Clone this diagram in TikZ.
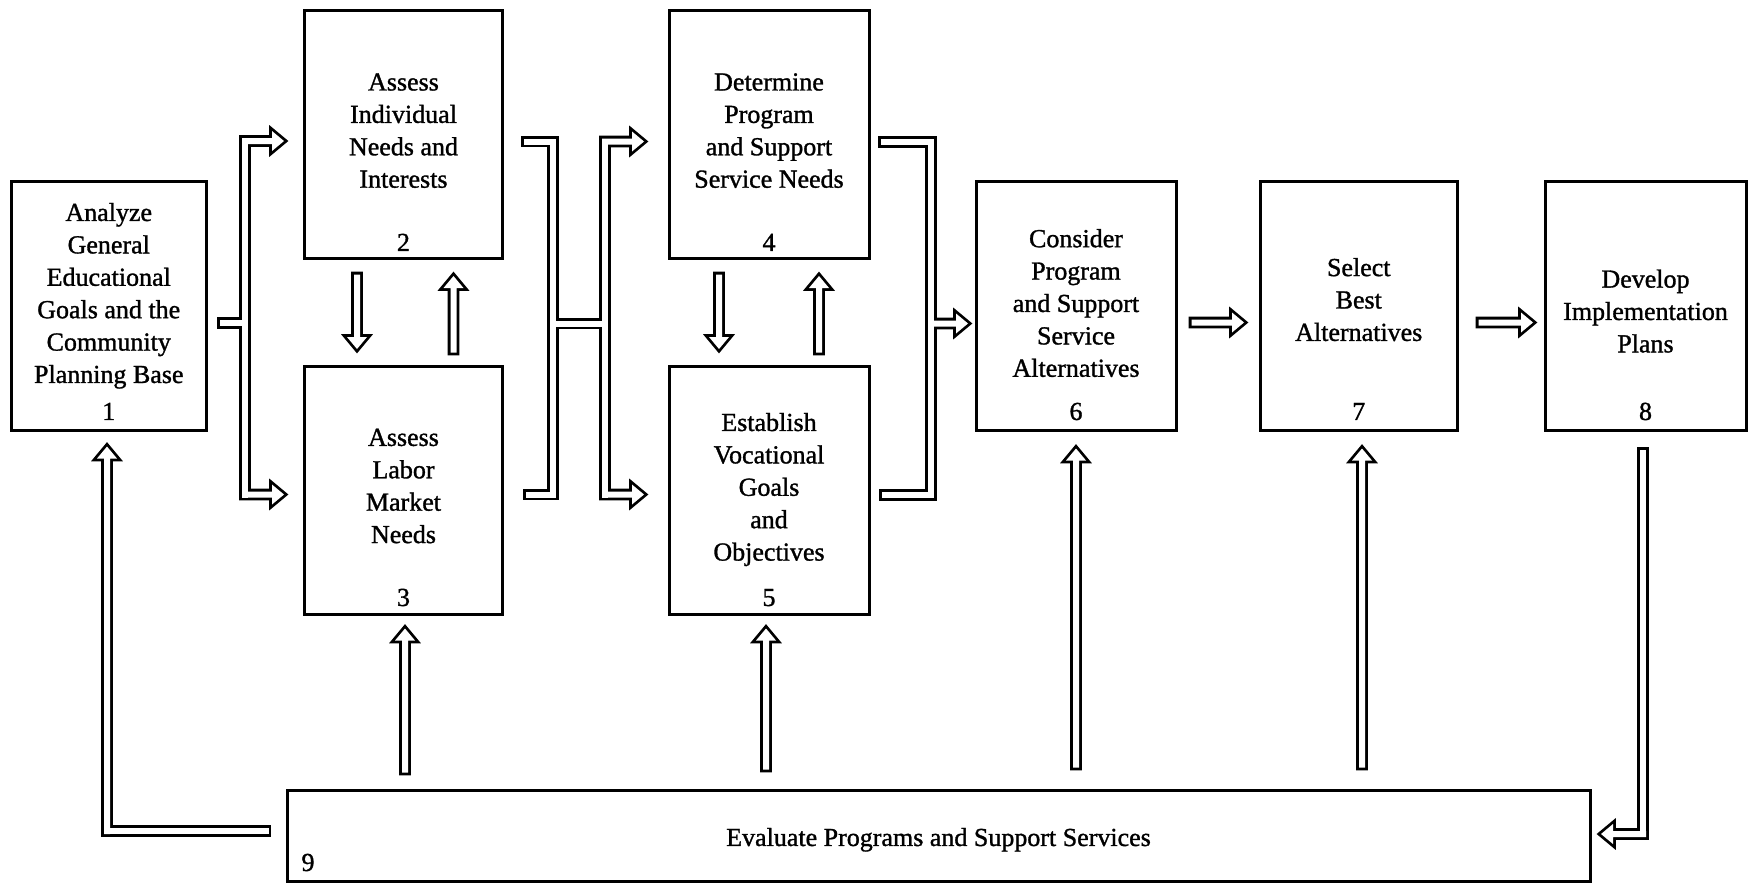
\documentclass[tikz,border=0pt]{standalone}
\usepackage{fontspec}
\setmainfont{Liberation Serif}[FakeBold=1.2]
\usetikzlibrary{calc}
\newcommand\arrSW{3pt}
\newcommand\arrHW{10pt}
\newcommand\arrHL{12pt}
% hollow straight arrow outline from #1 to tip #2
\newcommand\arrowshape[2]{let \p1=(#1), \p2=(#2), \n1={atan2(\y2-\y1,\x2-\x1)} in
  ($(\p1)+({\n1+90}:\arrSW)$) -- ($(\p2)+({\n1+180}:\arrHL)+({\n1+90}:\arrSW)$)
  -- ($(\p2)+({\n1+180}:\arrHL)+({\n1+90}:\arrHW)$) -- (\p2)
  -- ($(\p2)+({\n1+180}:\arrHL)+({\n1-90}:\arrHW)$)
  -- ($(\p2)+({\n1+180}:\arrHL)+({\n1-90}:\arrSW)$)
  -- ($(\p1)+({\n1-90}:\arrSW)$) -- cycle}
\newcommand\hollowone[1]{\draw[outl] #1; \fill[white] #1;}
% composite connectors: pass 1 = outline, pass 2 = white interior
\newcommand\conA[1]{%
  #1 ($(a1)+(0,-3)$) rectangle ($(ca)+(0,3)$);
  #1 ($(ca |- a2)+(-3,-3)$) rectangle ($(ca |- a3)+(3,3)$);
  #1 \arrowshape{$(ca |- a2)+(-3,0)$}{a2};
  #1 \arrowshape{$(ca |- a3)+(-3,0)$}{a3};}
\newcommand\conB[1]{%
  #1 ($(bA)+(0,-3)$) rectangle ($(bL)+(0,3)$);
  #1 ($(bB)+(0,-3)$) rectangle ($(bL |- bB)+(0,3)$);
  #1 ($(bL)+(-3,-3)$) rectangle ($(bL |- bB)+(3,3)$);
  #1 ($(bM)+(0,-3)$) rectangle ($(bR |- bM)+(0,3)$);
  #1 ($(bR)+(-3,-3)$) rectangle ($(bR |- bD)+(3,3)$);
  #1 \arrowshape{$(bR)+(-3,0)$}{bC};
  #1 \arrowshape{$(bR |- bD)+(-3,0)$}{bD};}
\newcommand\conC[1]{%
  #1 ($(cA)+(0,-3)$) rectangle ($(cL)+(0,3)$);
  #1 ($(cB)+(0,-3)$) rectangle ($(cL |- cB)+(0,3)$);
  #1 ($(cL)+(-3,-3)$) rectangle ($(cL |- cB)+(3,3)$);
  #1 \arrowshape{cL |- cT}{cT};}
\newcommand\conNineOne[1]{%
  #1 ($(g1k)+(-3,-3)$) rectangle ($(g1)+(0,3)$);
  #1 \arrowshape{$(g1k)+(0,3)$}{g1t};}
\newcommand\conEightNine[1]{%
  #1 ($(g8)+(-3,0)$) rectangle ($(g8k)+(3,3)$);
  #1 \arrowshape{$(g8k)+(3,0)$}{g8t};}
\begin{document}
\begin{tikzpicture}[x=1pt,y=-1pt,
  box/.style={draw, line width=3pt, inner sep=0pt, outer sep=0pt, rectangle},
  txt/.style={font=\fontsize{26}{32.4}\selectfont, align=center, inner sep=0pt},
  outl/.style={draw=black, line width=5.6pt, line join=miter}]
\useasboundingbox (0,0) rectangle (1749,884);

% boxes
\node[box, minimum width=195.5pt, minimum height=249.5pt] (b1) at (108.75,305.75) {};
\node[box, minimum width=198pt, minimum height=248pt] (b2) at (403.5,134.5) {};
\node[box, minimum width=198pt, minimum height=248pt] (b3) at (403.5,490) {};
\node[box, minimum width=200pt, minimum height=248pt] (b4) at (769,134.5) {};
\node[box, minimum width=200pt, minimum height=248pt] (b5) at (769,490) {};
\node[box, minimum width=200pt, minimum height=249.5pt] (b6) at (1076,305.75) {};
\node[box, minimum width=197.5pt, minimum height=249.5pt] (b7) at (1358.75,305.75) {};
\node[box, minimum width=201pt, minimum height=249.5pt] (b8) at (1645.5,305.75) {};
\node[box, minimum width=1303pt, minimum height=91pt] (b9) at (938.5,836) {};

% texts
\node[txt] (t1) at (108.75,295.5) {\strut Analyze\\General\\Educational\\Goals and the\\Community\\Planning Base\strut};
\node[txt] (n1) at (108.75,413.5) {\strut 1};
\node[txt] (t2) at (403.5,132.6) {\strut Assess\\Individual\\Needs and\\Interests\strut};
\node[txt] (n2) at (403.5,244.5) {\strut 2};
\node[txt] (t3) at (403.5,488) {\strut Assess\\Labor\\Market\\Needs\strut};
\node[txt] (n3) at (403.5,599.5) {\strut 3};
\node[txt] (t4) at (769,132.6) {\strut Determine\\Program\\and Support\\Service Needs\strut};
\node[txt] (n4) at (769,244.5) {\strut 4};
\node[txt] (t5) at (769,489.3) {\strut Establish\\Vocational\\Goals\\and\\Objectives\strut};
\node[txt] (n5) at (769,599.5) {\strut 5};
\node[txt] (t6) at (1076,305.5) {\strut Consider\\Program\\and Support\\Service\\Alternatives\strut};
\node[txt] (n6) at (1076,413.5) {\strut 6};
\node[txt] (t7) at (1358.75,302) {\strut Select\\Best\\Alternatives\strut};
\node[txt] (n7) at (1358.75,413.5) {\strut 7};
\node[txt] (t8) at (1645.5,313.5) {\strut Develop\\Implementation\\Plans\strut};
\node[txt] (n8) at (1645.5,413.5) {\strut 8};
\node[txt] (t9) at (938.5,839.5) {\strut Evaluate Programs and Support Services};
\node[txt] (n9) at (308,864.5) {\strut 9};

% connector coordinates
\coordinate (a1) at ($(b1.east)+(13,17.25)$);
\coordinate (a2) at ($(b2.west)+(-20.5,6.5)$);
\coordinate (a3) at ($(b3.west)+(-20.5,4.5)$);
\coordinate (ca) at ($(a1)+(25.5,0)$);

\coordinate (bA) at ($(b2.east)+(21,7)$);
\coordinate (bB) at ($(b3.east)+(23,4.5)$);
\coordinate (bC) at ($(b4.west)+(-25,7)$);
\coordinate (bD) at ($(b5.west)+(-25,4.5)$);
\coordinate (bL) at ($(bA)+(29.5,0)$);
\coordinate (bR) at ($(bC)+(-39,0)$);
\coordinate (bM) at ($(bL)+(0,182)$);

\coordinate (cA) at ($(b4.east)+(11.5,7.5)$);
\coordinate (cB) at ($(b5.east)+(12.5,5)$);
\coordinate (cT) at ($(b6.west)+(-8,17.75)$);
\coordinate (cL) at ($(cA)+(50.5,0)$);

\coordinate (g1) at ($(b9.west)+(-18.5,-5)$);
\coordinate (g1t) at ($(b1.south)+(-1.75,16)$);
\coordinate (g1k) at (g1t |- g1);
\coordinate (g8) at ($(b8.south)+(-2.5,19)$);
\coordinate (g8t) at ($(b9.east)+(11,-2)$);
\coordinate (g8k) at (g8 |- g8t);

% composite connectors
\conA{\draw[outl]} \conA{\fill[white]}
\conB{\draw[outl]} \conB{\fill[white]}
\conC{\draw[outl]} \conC{\fill[white]}
\conNineOne{\draw[outl]} \conNineOne{\fill[white]}
\conEightNine{\draw[outl]} \conEightNine{\fill[white]}

% straight connectors
\hollowone{\arrowshape{$(b2.south)+(-46.5,16)$}{$(b3.north)+(-46.5,-17)$}}
\hollowone{\arrowshape{$(b3.north)+(50,-13.5)$}{$(b2.south)+(50,17.5)$}}
\hollowone{\arrowshape{$(b4.south)+(-50,16)$}{$(b5.north)+(-50,-17)$}}
\hollowone{\arrowshape{$(b5.north)+(50,-13.5)$}{$(b4.south)+(50,17.5)$}}
\hollowone{\arrowshape{$(b6.east)+(15.5,16.75)$}{$(b7.west)+(-16,16.75)$}}
\hollowone{\arrowshape{$(b7.east)+(21,16.75)$}{$(b8.west)+(-12,16.75)$}}
\hollowone{\arrowshape{$(b3.south |- b9.north)+(1.5,-18)$}{$(b3.south)+(1.5,14.5)$}}
\hollowone{\arrowshape{$(b5.south |- b9.north)+(-3,-21)$}{$(b5.south)+(-3,14.5)$}}
\hollowone{\arrowshape{$(b6.south |- b9.north)+(0,-23)$}{$(b6.south)+(0,18)$}}
\hollowone{\arrowshape{$(b7.south |- b9.north)+(3.25,-23)$}{$(b7.south)+(3.25,18)$}}
\end{tikzpicture}
\end{document}
